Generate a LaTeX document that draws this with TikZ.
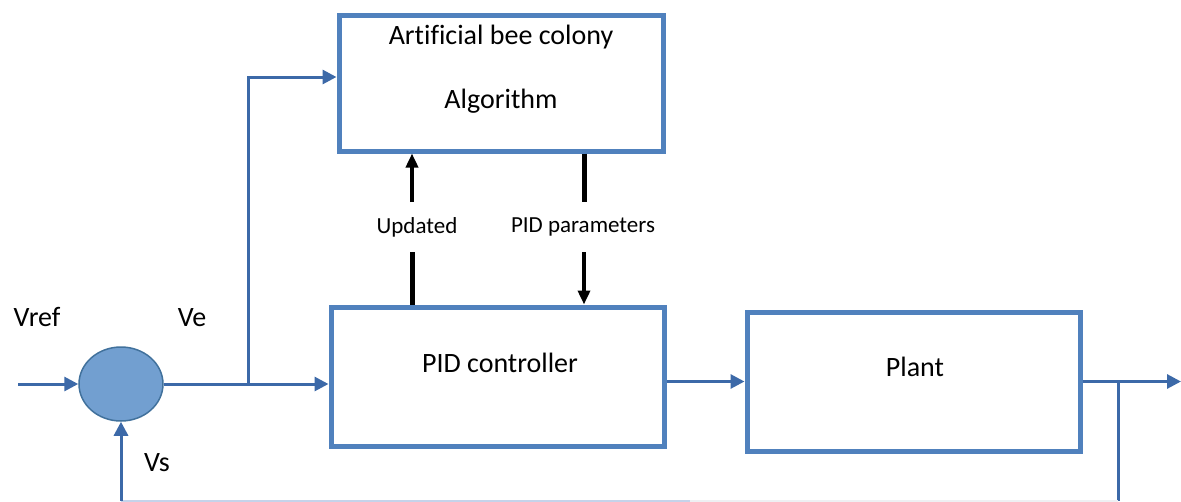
\documentclass[tikz,border=0pt]{standalone}
\usepackage{fontspec}
\setmainfont{Carlito}[Ligatures=NoCommon]
\usetikzlibrary{arrows.meta,shapes.geometric}
\definecolor{boxblue}{HTML}{5081BD}
\definecolor{lineblue}{HTML}{3C69A8}
\definecolor{sumfill}{HTML}{729FD0}
\definecolor{sumdraw}{HTML}{41719C}
\definecolor{paleblue}{HTML}{C5D3EA}
\definecolor{palegrey}{HTML}{EEF0F3}
\tikzset{
  blockbox/.style={draw=boxblue, line width=5pt, rectangle, fill=white},
  conn/.style={draw=lineblue, line width=3pt},
  connarrow/.style={conn, -{Triangle[length=14pt,width=14pt]}},
  sig/.style={font=\fontsize{28}{30}\selectfont, inner sep=0pt},
  small/.style={font=\fontsize{23}{25}\selectfont, inner sep=0pt},
  thickblack/.style={draw=black, line width=5pt},
  blackarrow/.style={draw=black, line width=3.5pt, -{Triangle[length=14pt,width=12pt]}},
}
\begin{document}
\begin{tikzpicture}[x=1pt,y=-1pt]
\useasboundingbox (0,0) rectangle (1181,501);
% blocks
\node[blockbox, minimum width=324pt, minimum height=136pt] (abc) at (501,83) {};
\node[sig] (abct1) at (501,37) {Artificial bee colony};
\node[sig] (abct2) at (501,101) {Algorithm};
\node[blockbox, minimum width=333pt, minimum height=139pt] (pid) at (497.5,376.5) {};
\node[sig] (pidt) at (500,363) {PID controller};
\node[blockbox, minimum width=333pt, minimum height=139pt] (plant) at (913.5,381.5) {};
\node[sig] (plantt) at (915,367) {Plant};
% summing junction
\node[ellipse, draw=sumdraw, line width=1.5pt, fill=sumfill, minimum width=84pt, minimum height=74pt, inner sep=0pt] (sum) at (121,384) {};
% labels
\node[sig] (vref) at (37,317) {Vref};
\node[sig] (ve) at (192,318) {Ve};
\node[sig] (vs) at (157,463) {Vs};
\node[small] (upd) at (417,227) {Updated};
\node[small] (pidp) at (583,227) {PID parameters};
% coordinates
\coordinate (vin) at (18,384);
\coordinate (br) at (248,384);
\coordinate (bt) at (248,77);
\coordinate (fb) at (1118,381.5);
\coordinate (out) at (1181,381.5);
\coordinate (fbb) at (1118,501);
\coordinate (fbl) at (121,501);
\coordinate (u1) at (412,252);
\coordinate (u2) at (412,202);
\coordinate (p1) at (584,202);
\coordinate (p2) at (584,252);
% connectors
\draw[connarrow] (vin) -- (sum.west);
\draw[connarrow] (sum.east) -- (sum.east -| pid.west);
\draw[connarrow] (br) -- (bt) -- (bt -| abc.west);
\draw[connarrow] (plant.west -| pid.east) -- (plant.west);
\draw[connarrow] (plant.east) -- (out);
\draw[conn] (fb) -- (fbb);
\draw[draw=palegrey, line width=3pt] (fbb) -- (fbl -| 690,0);
\draw[draw=paleblue, line width=3pt] (fbl -| 690,0) -- (fbl);
\draw[connarrow] (fbl) -- (sum.south);
% black arrows
\draw[thickblack] (pid.north -| u1) -- (u1);
\draw[blackarrow] (u2) -- (u2 |- abc.south);
\draw[thickblack] (abc.south -| p1) -- (p1);
\draw[blackarrow] (p2) -- (p2 |- pid.north);
\end{tikzpicture}
\end{document}
